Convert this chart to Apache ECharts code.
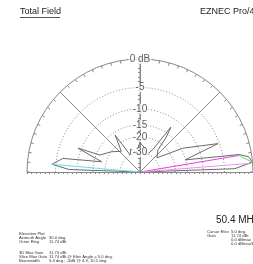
<!doctype html>
<html>
<head>
<meta charset="UTF-8">
<title>Total Field</title>
<script src="https://cdn.jsdelivr.net/npm/echarts@6/dist/echarts.min.js"></script>
<style>
  html, body { margin: 0; padding: 0; background: #fff; }
  #chart { width: 253px; height: 264px; }
</style>
</head>
<body>
<div id="chart"></div>
<script>
// ring levels (dB) and labels on the vertical axis
var ringDb = [-5, -10, -15, -20, -30];
var ringLabels = ['-5', '-10', '-15', '-20', '-30'];
var radialElev = [45, 90, 135];

// main trace: elevation angle (deg) / relative gain (dB)
var patternElev = [0, 2, 5, 8, 10, 15, 20, 29, 40, 51, 53, 55.5, 60, 70, 80, 90, 100, 112, 120, 124, 132, 145, 157, 159, 165, 170, 175, 178, 180];
var patternDb = [-99, -3, 0, -0.5, -2, -15.2, -5.3, -14.3, -28, -23.7, -16.3, -12.5, -25, -32, -26, -23, -30, -26, -30, -16, -24, -20, -16.4, -9.1, -18, -6.3, -4.2, -8, -99];

// coloured overlays
var cyanElev = [180, 175];
var cyanDb = [-99, -4.2];
var magentaElev = [0, 9.5];
var magentaDb = [-99, -2.1];
var magenta2Elev = [0, 4.5];
var magenta2Db = [-99, -0.6];
var greenElev = [9.5, 5];
var greenDb = [-2.1, 0];

var leftInfoLabels = ['Elevation Plot', 'Azimuth Angle', 'Outer Ring', '3D Max Gain', 'Slice Max Gain', 'Beamwidth'];
var leftInfoValues = ['', '30.0 deg.', '11.74 dBi', '11.74 dBi', '11.74 dBi @ Elev Angle = 5.0 deg.', '5.4 deg.; -3dB @ 4.3, 10.1 deg.'];
var rightInfoLabels = ['Cursor Elev', 'Gain', '', ''];
var rightInfoValues = ['5.0 deg.', '11.74 dBi', '0.0 dBmax', '0.0 dBmax3D'];

// ARRL log scale: 0.89 per 2 dB
function toR(db) {
  return Math.pow(0.89, -db / 2);
}

function polarData(elev, db) {
  var out = [];
  for (var i = 0; i < elev.length; i++) {
    out.push([toR(db[i]), elev[i]]);
  }
  return out;
}

var fontFam = '"Liberation Sans", Arial, sans-serif';

var series = [];

// dotted rings
for (var k = 0; k < ringDb.length; k++) {
  var ring = [];
  for (var a = 0; a <= 180; a += 2) ring.push([toR(ringDb[k]), a]);
  series.push({
    type: 'line', coordinateSystem: 'polar', symbol: 'none', silent: true,
    lineStyle: { color: '#8a8a8a', width: 1, type: [1, 2] },
    data: ring
  });
}

// radial lines
for (var m = 0; m < radialElev.length; m++) {
  series.push({
    type: 'line', coordinateSystem: 'polar', symbol: 'none', silent: true,
    lineStyle: { color: '#888', width: 1 },
    data: [[0, radialElev[m]], [1, radialElev[m]]]
  });
}

series.push({
  type: 'line', coordinateSystem: 'polar', symbol: 'none',
  lineStyle: { color: '#6a6a6a', width: 1 },
  data: polarData(patternElev, patternDb), z: 5
});
series.push({
  type: 'line', coordinateSystem: 'polar', symbol: 'none',
  lineStyle: { color: '#5fe0e8', width: 1 },
  data: polarData(cyanElev, cyanDb), z: 6
});
series.push({
  type: 'line', coordinateSystem: 'polar', symbol: 'none',
  lineStyle: { color: '#e040e0', width: 1 },
  data: polarData(magentaElev, magentaDb), z: 6
});
series.push({
  type: 'line', coordinateSystem: 'polar', symbol: 'none',
  lineStyle: { color: '#f090f0', width: 1 },
  data: polarData(magenta2Elev, magenta2Db), z: 6
});
series.push({
  type: 'line', coordinateSystem: 'polar', symbol: 'none',
  lineStyle: { color: '#8ee08e', width: 1.2 },
  data: polarData(greenElev, greenDb), z: 6
});

// ring labels
var labelData = [];
for (var n = 0; n < ringDb.length; n++) {
  labelData.push({ value: [toR(ringDb[n]), 90], name: ringLabels[n] });
}
labelData.push({ value: [1, 90], name: '0 dB' });
series.push({
  type: 'scatter', coordinateSystem: 'polar', symbolSize: 0, z: 10,
  label: {
    show: true, position: 'inside', formatter: '{b}',
    color: '#333', fontSize: 10, fontFamily: fontFam,
    backgroundColor: '#fff', padding: [0, 1]
  },
  data: labelData
});

// info texts
var graphics = [
  { type: 'text', left: 20, top: 7, style: { text: 'Total Field', fontSize: 9, fontFamily: fontFam, fill: '#222' } },
  { type: 'line', shape: { x1: 20, y1: 17.5, x2: 60, y2: 17.5 }, style: { stroke: '#555', lineWidth: 1 } },
  { type: 'text', left: 200, top: 7, style: { text: 'EZNEC Pro/4', fontSize: 9, fontFamily: fontFam, fill: '#222' } },
  { type: 'text', left: 216, top: 215, style: { text: '50.4 MHz', fontSize: 10, fontFamily: fontFam, fill: '#222' } }
];
var leftY = [234, 238, 242, 253, 257, 261];
for (var p = 0; p < leftInfoLabels.length; p++) {
  graphics.push({ type: 'text', x: 19, y: leftY[p], style: { text: leftInfoLabels[p], fontSize: 4.2, fontFamily: fontFam, fill: '#333', verticalAlign: 'middle' } });
  graphics.push({ type: 'text', x: 49, y: leftY[p], style: { text: leftInfoValues[p], fontSize: 4.2, fontFamily: fontFam, fill: '#333', verticalAlign: 'middle' } });
}
var rightY = [232, 236, 240, 244];
for (var q = 0; q < rightInfoLabels.length; q++) {
  graphics.push({ type: 'text', x: 207, y: rightY[q], style: { text: rightInfoLabels[q], fontSize: 4.2, fontFamily: fontFam, fill: '#333', verticalAlign: 'middle' } });
  graphics.push({ type: 'text', x: 231, y: rightY[q], style: { text: rightInfoValues[q], fontSize: 4.2, fontFamily: fontFam, fill: '#333', verticalAlign: 'middle' } });
}

var option = {
  animation: false,
  backgroundColor: '#fff',
  polar: { center: [140, 172], radius: 113 },
  angleAxis: {
    type: 'value', min: 0, max: 180, interval: 5,
    startAngle: 0, endAngle: 180, clockwise: false,
    axisLine: { lineStyle: { color: '#888', width: 1 } },
    axisTick: { show: true, inside: true, length: 3, lineStyle: { color: '#888' } },
    axisLabel: { show: false },
    splitLine: { show: false }
  },
  radiusAxis: { type: 'value', min: 0, max: 1, show: false },
  grid: { left: 27, right: 0, top: 59, bottom: 92 },
  xAxis: {
    type: 'value', min: -1, max: 1, interval: 0.04,
    axisLine: { onZero: false, lineStyle: { color: '#888' } },
    axisTick: { show: true, length: 2, lineStyle: { color: '#888' } },
    axisLabel: { show: false },
    splitLine: { show: false }
  },
  yAxis: {
    type: 'value', min: 0, max: 1, interval: 0.04,
    axisLine: { show: true, onZero: true, lineStyle: { color: '#888' } },
    axisTick: { show: true, length: 2, lineStyle: { color: '#888' } },
    axisLabel: { show: false },
    splitLine: { show: false }
  },
  graphic: graphics,
  series: series
};

var chart = echarts.init(document.getElementById('chart'));
chart.setOption(option);
</script>
</body>
</html>
